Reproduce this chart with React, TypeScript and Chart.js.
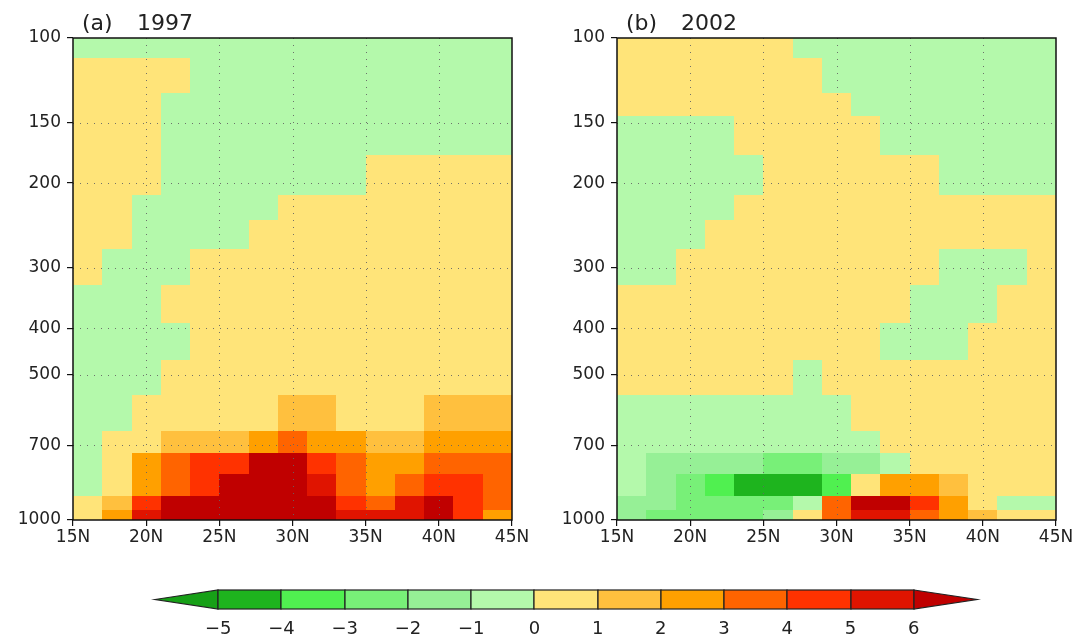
import React, { useEffect, useRef } from 'react';
import { Chart, registerables } from 'chart.js';

Chart.register(...registerables);

// ---------- data ----------
const lats = [16, 18, 20, 22, 24, 26, 28, 30, 32, 34, 36, 38, 40, 42, 44];
const pressureEdges = [100, 110, 130, 145, 175, 212, 238, 274, 326, 391, 466, 551, 653, 727, 803, 892, 953, 1000];
const xTicks = [15, 20, 25, 30, 35, 40, 45];
const yTicks = [100, 150, 200, 300, 400, 500, 700, 1000];
const cbLevels = [-5, -4, -3, -2, -1, 0, 1, 2, 3, 4, 5, 6];
const cbLabels = ['\u22125', '\u22124', '\u22123', '\u22122', '\u22121', '0', '1', '2', '3', '4', '5', '6'];
const cbColors = ['#17a017', '#1eb41e', '#50f050', '#78f078', '#96f096', '#b4f9ab', '#ffe479', '#ffc03e', '#ffa000', '#ff6400', '#ff3200', '#e01400', '#c00000'];
const panelTags = ['(a)', '(b)'];
const panelYears = ['1997', '2002'];

const panelA: number[][] = [
  [-0.5, -0.5, -0.5, -0.5, -0.5, -0.5, -0.5, -0.5, -0.5, -0.5, -0.5, -0.5, -0.5, -0.5, -0.5],
  [0.5, 0.5, 0.5, 0.5, -0.5, -0.5, -0.5, -0.5, -0.5, -0.5, -0.5, -0.5, -0.5, -0.5, -0.5],
  [0.5, 0.5, 0.5, -0.5, -0.5, -0.5, -0.5, -0.5, -0.5, -0.5, -0.5, -0.5, -0.5, -0.5, -0.5],
  [0.5, 0.5, 0.5, -0.5, -0.5, -0.5, -0.5, -0.5, -0.5, -0.5, -0.5, -0.5, -0.5, -0.5, -0.5],
  [0.5, 0.5, 0.5, -0.5, -0.5, -0.5, -0.5, -0.5, -0.5, -0.5, 0.5, 0.5, 0.5, 0.5, 0.5],
  [0.5, 0.5, -0.5, -0.5, -0.5, -0.5, -0.5, 0.5, 0.5, 0.5, 0.5, 0.5, 0.5, 0.5, 0.5],
  [0.5, 0.5, -0.5, -0.5, -0.5, -0.5, 0.5, 0.5, 0.5, 0.5, 0.5, 0.5, 0.5, 0.5, 0.5],
  [0.5, -0.5, -0.5, -0.5, 0.5, 0.5, 0.5, 0.5, 0.5, 0.5, 0.5, 0.5, 0.5, 0.5, 0.5],
  [-0.5, -0.5, -0.5, 0.5, 0.5, 0.5, 0.5, 0.5, 0.5, 0.5, 0.5, 0.5, 0.5, 0.5, 0.5],
  [-0.5, -0.5, -0.5, -0.5, 0.5, 0.5, 0.5, 0.5, 0.5, 0.5, 0.5, 0.5, 0.5, 0.5, 0.5],
  [-0.5, -0.5, -0.5, 0.5, 0.5, 0.5, 0.5, 0.5, 0.5, 0.5, 0.5, 0.5, 0.5, 0.5, 0.5],
  [-0.5, -0.5, 0.5, 0.5, 0.5, 0.5, 0.5, 1.5, 1.5, 0.5, 0.5, 0.5, 1.5, 1.5, 1.5],
  [-0.5, 0.5, 0.5, 1.5, 1.5, 1.5, 2.5, 3.5, 2.5, 2.5, 1.5, 1.5, 2.5, 2.5, 2.5],
  [-0.5, 0.5, 2.5, 3.5, 4.5, 4.5, 6.5, 6.5, 4.5, 3.5, 2.5, 2.5, 3.5, 3.5, 3.5],
  [-0.5, 0.5, 2.5, 3.5, 4.5, 6.5, 6.5, 6.5, 5.5, 3.5, 2.5, 3.5, 4.5, 4.5, 3.5],
  [0.5, 1.5, 4.5, 6.5, 6.5, 6.5, 6.5, 6.5, 6.5, 4.5, 3.5, 5.5, 6.5, 4.5, 3.5],
  [0.5, 2.5, 5.5, 6.5, 6.5, 6.5, 6.5, 6.5, 6.5, 5.5, 5.5, 5.5, 6.5, 4.5, 2.5],
];

const panelB: number[][] = [
  [0.5, 0.5, 0.5, 0.5, 0.5, 0.5, -0.5, -0.5, -0.5, -0.5, -0.5, -0.5, -0.5, -0.5, -0.5],
  [0.5, 0.5, 0.5, 0.5, 0.5, 0.5, 0.5, -0.5, -0.5, -0.5, -0.5, -0.5, -0.5, -0.5, -0.5],
  [0.5, 0.5, 0.5, 0.5, 0.5, 0.5, 0.5, 0.5, -0.5, -0.5, -0.5, -0.5, -0.5, -0.5, -0.5],
  [-0.5, -0.5, -0.5, -0.5, 0.5, 0.5, 0.5, 0.5, 0.5, -0.5, -0.5, -0.5, -0.5, -0.5, -0.5],
  [-0.5, -0.5, -0.5, -0.5, -0.5, 0.5, 0.5, 0.5, 0.5, 0.5, 0.5, -0.5, -0.5, -0.5, -0.5],
  [-0.5, -0.5, -0.5, -0.5, 0.5, 0.5, 0.5, 0.5, 0.5, 0.5, 0.5, 0.5, 0.5, 0.5, 0.5],
  [-0.5, -0.5, -0.5, 0.5, 0.5, 0.5, 0.5, 0.5, 0.5, 0.5, 0.5, 0.5, 0.5, 0.5, 0.5],
  [-0.5, -0.5, 0.5, 0.5, 0.5, 0.5, 0.5, 0.5, 0.5, 0.5, 0.5, -0.5, -0.5, -0.5, 0.5],
  [0.5, 0.5, 0.5, 0.5, 0.5, 0.5, 0.5, 0.5, 0.5, 0.5, -0.5, -0.5, -0.5, 0.5, 0.5],
  [0.5, 0.5, 0.5, 0.5, 0.5, 0.5, 0.5, 0.5, 0.5, -0.5, -0.5, -0.5, 0.5, 0.5, 0.5],
  [0.5, 0.5, 0.5, 0.5, 0.5, 0.5, -0.5, 0.5, 0.5, 0.5, 0.5, 0.5, 0.5, 0.5, 0.5],
  [-0.5, -0.5, -0.5, -0.5, -0.5, -0.5, -0.5, -0.5, 0.5, 0.5, 0.5, 0.5, 0.5, 0.5, 0.5],
  [-0.5, -0.5, -0.5, -0.5, -0.5, -0.5, -0.5, -0.5, -0.5, 0.5, 0.5, 0.5, 0.5, 0.5, 0.5],
  [-0.5, -1.5, -1.5, -1.5, -1.5, -2.5, -2.5, -1.5, -1.5, -0.5, 0.5, 0.5, 0.5, 0.5, 0.5],
  [-0.5, -1.5, -2.5, -3.5, -4.5, -4.5, -4.5, -3.5, 0.5, 2.5, 2.5, 1.5, 0.5, 0.5, 0.5],
  [-1.5, -1.5, -2.5, -2.5, -2.5, -2.5, -0.5, 3.5, 6.5, 6.5, 4.5, 2.5, 0.5, -0.5, -0.5],
  [-1.5, -2.5, -2.5, -2.5, -2.5, -1.5, 0.5, 3.5, 5.5, 5.5, 3.5, 2.5, 1.5, 0.5, 0.5],
];

// ---------- helpers ----------
const FONT = '"DejaVu Sans", "Liberation Sans", sans-serif';

function colorFor(v: number): string {
  for (let i = 0; i < cbLevels.length; i++) {
    if (v < cbLevels[i]) return cbColors[i];
  }
  return cbColors[cbColors.length - 1];
}

function makePanelPlugin(grid: number[][], tag: string, year: string) {
  return {
    id: 'panelCells',
    beforeDatasetsDraw(chart: any) {
      const { ctx, chartArea } = chart;
      const x = chart.scales.x;
      const y = chart.scales.y;
      const half = (lats[1] - lats[0]) / 2;
      ctx.save();
      for (let r = 0; r < grid.length; r++) {
        const y0 = Math.round(y.getPixelForValue(pressureEdges[r]));
        const y1 = Math.round(y.getPixelForValue(pressureEdges[r + 1]));
        for (let c = 0; c < lats.length; c++) {
          const x0 = Math.round(x.getPixelForValue(lats[c] - half));
          const x1 = Math.round(x.getPixelForValue(lats[c] + half));
          ctx.fillStyle = colorFor(grid[r][c]);
          ctx.fillRect(x0, y0, x1 - x0, y1 - y0);
        }
      }
      // dotted grid lines
      ctx.strokeStyle = 'rgba(100,100,100,0.9)';
      ctx.lineWidth = 1;
      ctx.setLineDash([1, 6]);
      xTicks.forEach((v) => {
        if (v <= x.min || v >= x.max) return;
        const px = Math.round(x.getPixelForValue(v)) + 0.5;
        ctx.beginPath();
        ctx.moveTo(px, chartArea.top);
        ctx.lineTo(px, chartArea.bottom);
        ctx.stroke();
      });
      yTicks.forEach((v) => {
        if (v <= 100 || v >= 1000) return;
        const py = Math.round(y.getPixelForValue(v)) + 0.5;
        ctx.beginPath();
        ctx.moveTo(chartArea.left, py);
        ctx.lineTo(chartArea.right, py);
        ctx.stroke();
      });
      ctx.restore();
    },
    afterDraw(chart: any) {
      const { ctx, chartArea } = chart;
      ctx.save();
      ctx.strokeStyle = '#111';
      ctx.lineWidth = 1.5;
      ctx.setLineDash([]);
      ctx.strokeRect(chartArea.left, chartArea.top, chartArea.right - chartArea.left, chartArea.bottom - chartArea.top);
      ctx.fillStyle = '#222';
      ctx.font = `22px ${FONT}`;
      ctx.textBaseline = 'alphabetic';
      ctx.textAlign = 'left';
      ctx.fillText(tag, chartArea.left + 9, chartArea.top - 8);
      ctx.fillText(year, chartArea.left + 64, chartArea.top - 8);
      ctx.restore();
    },
  };
}

function panelConfig(grid: number[][], tag: string, year: string, padRight: number): any {
  const tickFont = { family: FONT, size: 17 };
  return {
    type: 'scatter',
    data: { datasets: [] },
    options: {
      responsive: false,
      animation: false,
      devicePixelRatio: 1,
      events: [],
      layout: { padding: { top: 38, right: padRight, bottom: 10, left: 0 } },
      plugins: { legend: { display: false }, tooltip: { enabled: false }, title: { display: false } },
      scales: {
        x: {
          type: 'linear',
          min: 15,
          max: 45,
          afterBuildTicks: (s: any) => {
            s.ticks = xTicks.map((v) => ({ value: v }));
          },
          afterFit: (s: any) => {
            s.height = 30;
          },
          grid: { drawOnChartArea: false, color: '#111', tickLength: 6, lineWidth: 1.2 },
          border: { display: false },
          ticks: {
            color: '#222',
            font: tickFont,
            padding: 1,
            maxRotation: 0,
            minRotation: 0,
            autoSkip: false,
            callback: (v: number) => `${v}N`,
          },
        },
        y: {
          type: 'logarithmic',
          reverse: true,
          min: 100,
          max: 1000,
          afterBuildTicks: (s: any) => {
            s.ticks = yTicks.map((v) => ({ value: v }));
          },
          afterFit: (s: any) => {
            s.width = 73;
          },
          grid: { drawOnChartArea: false, color: '#111', tickLength: 6, lineWidth: 1.2 },
          border: { display: false },
          ticks: {
            color: '#222',
            font: tickFont,
            padding: 6,
            autoSkip: false,
            callback: (v: number) => String(v),
          },
        },
      },
    },
    plugins: [makePanelPlugin(grid, tag, year)],
  };
}

const colorbarPlugin = {
  id: 'colorbar',
  beforeDatasetsDraw(chart: any) {
    const { ctx, chartArea } = chart;
    const x = chart.scales.x;
    const top = chartArea.top;
    const bot = chartArea.bottom;
    const mid = (top + bot) / 2;
    ctx.save();
    ctx.strokeStyle = '#222';
    ctx.lineWidth = 1.2;
    const lo = cbLevels[0];
    const hi = cbLevels[cbLevels.length - 1];
    const step = cbLevels[1] - cbLevels[0];
    const lt = x.getPixelForValue(lo - step);
    const l0 = Math.round(x.getPixelForValue(lo));
    ctx.fillStyle = cbColors[0];
    ctx.beginPath();
    ctx.moveTo(lt, mid);
    ctx.lineTo(l0, top);
    ctx.lineTo(l0, bot);
    ctx.closePath();
    ctx.fill();
    ctx.stroke();
    for (let i = 0; i < cbLevels.length - 1; i++) {
      const a = Math.round(x.getPixelForValue(cbLevels[i]));
      const b = Math.round(x.getPixelForValue(cbLevels[i + 1]));
      ctx.fillStyle = cbColors[i + 1];
      ctx.fillRect(a, top, b - a, bot - top);
      ctx.strokeRect(a, top, b - a, bot - top);
    }
    const r0 = Math.round(x.getPixelForValue(hi));
    const rt = x.getPixelForValue(hi + step);
    ctx.fillStyle = cbColors[cbColors.length - 1];
    ctx.beginPath();
    ctx.moveTo(r0, top);
    ctx.lineTo(rt, mid);
    ctx.lineTo(r0, bot);
    ctx.closePath();
    ctx.fill();
    ctx.stroke();
    ctx.restore();
  },
};

function colorbarConfig(): any {
  return {
    type: 'scatter',
    data: { datasets: [] },
    options: {
      responsive: false,
      animation: false,
      devicePixelRatio: 1,
      events: [],
      layout: { padding: { top: 20, right: 104, bottom: 0, left: 155 } },
      plugins: { legend: { display: false }, tooltip: { enabled: false } },
      scales: {
        x: {
          type: 'linear',
          min: cbLevels[0] - 1,
          max: cbLevels[cbLevels.length - 1] + 1,
          afterBuildTicks: (s: any) => {
            s.ticks = cbLevels.map((v) => ({ value: v }));
          },
          afterFit: (s: any) => {
            s.height = 26;
          },
          grid: { display: false },
          border: { display: false },
          ticks: {
            color: '#222',
            font: { family: FONT, size: 18 },
            padding: 2,
            maxRotation: 0,
            autoSkip: false,
            callback: (v: number) => cbLabels[cbLevels.indexOf(v)],
          },
        },
        y: { display: false, min: 0, max: 1 },
      },
    },
    plugins: [colorbarPlugin],
  };
}

// ---------- components ----------
function ChartCanvas({ config, left, top, width, height }: { config: () => any; left: number; top: number; width: number; height: number }) {
  const ref = useRef<HTMLCanvasElement | null>(null);
  useEffect(() => {
    if (!ref.current) return;
    const chart = new Chart(ref.current, config());
    return () => chart.destroy();
  }, []);
  return (
    <canvas
      ref={ref}
      width={width}
      height={height}
      style={{ position: 'absolute', left, top, width, height }}
    />
  );
}

export default function App() {
  return (
    <div
      style={{
        position: 'fixed',
        left: 0,
        top: 0,
        width: 1081,
        height: 635,
        overflow: 'hidden',
        background: '#fff',
      }}
    >
      <ChartCanvas config={() => panelConfig(panelA, panelTags[0], panelYears[0], 33)} left={0} top={0} width={545} height={560} />
      <ChartCanvas config={() => panelConfig(panelB, panelTags[1], panelYears[1], 20)} left={544} top={0} width={532} height={560} />
      <ChartCanvas config={colorbarConfig} left={0} top={570} width={1081} height={65} />
    </div>
  );
}
